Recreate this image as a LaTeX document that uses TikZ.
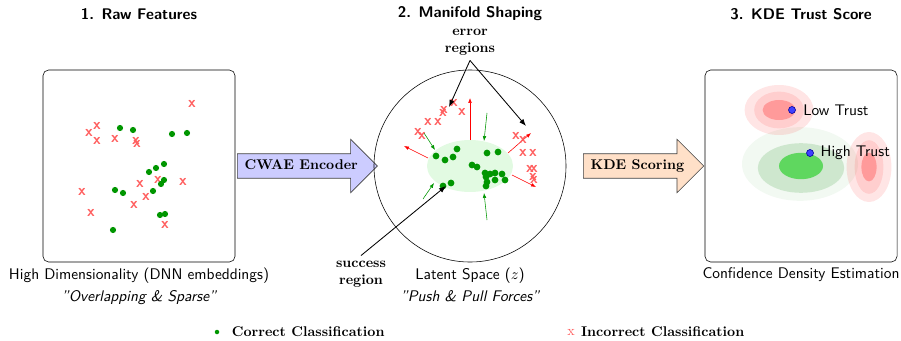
\documentclass[tikz,border=0pt,11pt]{standalone}
\usepackage{fontspec}
\usepackage{xcolor}
\usetikzlibrary{arrows.meta,positioning,shapes.arrows}

\definecolor{okgreen}{RGB}{0,150,0}
\definecolor{errred}{RGB}{255,95,95}
\definecolor{encblue}{RGB}{204,204,255}
\definecolor{kdeorange}{RGB}{255,224,200}
\definecolor{densgreen}{RGB}{0,128,0}
\definecolor{coregreen}{RGB}{95,215,95}
\definecolor{mint}{RGB}{226,250,226}

\begin{document}
\begin{tikzpicture}[
            x=0.025cm, y=-0.025cm,
            panel/.style={rectangle, draw, rounded corners=4pt, minimum width=4.8cm, minimum height=4.8cm, inner sep=0pt},
            title/.style={font=\sffamily\bfseries},
            caption/.style={font=\sffamily, align=center},
            note/.style={font=\small\bfseries, align=center},
            good/.style={circle, fill=okgreen, inner sep=0pt, minimum size=4.4pt},
            bad/.style={text=errred, font=\sffamily\bfseries, inner sep=0pt},
            trust/.style={circle, fill=blue!75, draw=blue!60!black, inner sep=0pt, minimum size=5pt},
            flow/.style={single arrow, draw=black!75, font=\small\bfseries, single arrow head extend=0.3625cm, text height=7pt, text depth=2pt, inner ysep=4pt, inner xsep=5pt},
            push/.style={-{Latex[length=3.5pt]}, red},
            pull/.style={-{Latex[length=3.5pt]}, okgreen},
            callout/.style={-{Latex[length=5pt]}, semithick}
        ]
            \useasboundingbox (0,0) rectangle (901,341);

            % --- TITLES ---
            \node[title] (t1) at (139,14) {1. Raw Features};
            \node[title] (t2) at (470,14) {2. Manifold Shaping};
            \node[title] (t3) at (801,14) {3. KDE Trust Score};

            % --- RAW FEATURES ---
            \node[panel] (raw) at (139,166) {};
            \foreach \x/\y in {192/104, 97/126, 89/133, 97/141, 115/139, 136/141, 137/144, 82/192,
                               91/213, 140/184, 158/180, 183/182, 146/197, 134/205, 165/225}
                \node[bad] at (\x,\y) {x};
            \foreach \x/\y in {120/128, 133/130, 172/134, 187/133, 164/164, 156/168, 149/172, 164/180,
                               161/184, 153/191, 115/190, 123/193, 160/215, 165/214, 113/230}
                \node[good] at (\x,\y) {};
            \node[caption, below=0pt of raw] (rawcap) {High Dimensionality (DNN embeddings)\\[2pt]\itshape "Overlapping \& Sparse"};

            % --- ENCODER ---
            \node[flow, fill=encblue, minimum height=3.425cm, anchor=tail] (enc) at (237,166) {CWAE Encoder};

            % --- LATENT SPACE ---
            \node[circle, draw, minimum size=4.8cm, inner sep=0pt] (latent) at (470,166) {};
            \fill[mint] (latent.center) ellipse [x radius=1.075cm, y radius=0.65cm];
            \foreach \a/\b/\c/\d in {470/140/470/98, 428/158/404/146, 508/153/531/133, 512/175/536/187}
                \draw[push] (\a,\b) -- (\c,\d);
            \foreach \a/\b/\c/\d in {424/133/435/150, 487/113/484/141, 423/199/434/183, 487/220/484/193}
                \draw[pull] (\a,\b) -- (\c,\d);
            \foreach \x/\y in {454/103, 462/112, 443/113, 444/110, 428/122, 438/122, 418/132, 422/136,
                               516/136, 523/140, 523/153, 533/153, 530/169, 534/169, 533/177, 534/180}
                \node[bad] at (\x,\y) {x};
            \foreach \x/\y in {436/156, 445/160, 453/157, 457/149, 487/153, 498/152, 472/165, 477/167,
                               485/173, 490/174, 495/173, 486/177, 487/182, 486/186, 495/180, 502/174,
                               505/180, 443/186, 451/183}
                \node[good, minimum size=4.8pt] at (\x,\y) {};
            \node[caption, below=0pt of latent] (latcap) {Latent Space ($z$)\\[2pt]\itshape "Push \& Pull Forces"};

            % callouts
            \node[note] (errlbl) at (470,42) {error\\regions};
            \coordinate (errA) at (449,107);
            \coordinate (errB) at (526,126);
            \draw[callout] (errlbl.south) -- (errA);
            \draw[callout] (errlbl.south) -- (errB);
            \node[note] (succlbl) at (361,274) {success\\region};
            \coordinate (succA) at (446,186);
            \draw[callout] (succlbl.north) -- (succA);

            % --- SCORING ---
            \node[flow, fill=kdeorange, minimum height=2.925cm, anchor=tail] (kde) at (583,166) {KDE Scoring};

            % --- KDE TRUST ---
            \node[panel] (dens) at (801,166) {};
            \fill[densgreen, fill opacity=0.05] (800,164) ellipse [x radius=1.45cm, y radius=0.92cm];
            \fill[densgreen, fill opacity=0.15] (801,168) ellipse [x radius=1.08cm, y radius=0.62cm];
            \fill[coregreen] (801,166) ellipse [x radius=0.55cm, y radius=0.33cm];
            \foreach \rx/\ry/\op in {0.86/0.625/0.1, 0.62/0.46/0.1, 0.41/0.25/0.25}
                \fill[red, fill opacity=\op] (779,110) ellipse [x radius=\rx cm, y radius=\ry cm];
            \foreach \rx/\ry/\op in {0.56/0.875/0.1, 0.36/0.67/0.1, 0.19/0.36/0.25}
                \fill[red, fill opacity=\op] (869,167) ellipse [x radius=\rx cm, y radius=\ry cm];
            \node[trust] (low) at (792,110) {};
            \node[font=\sffamily, right=1.5pt of low] (lowlbl) {Low Trust};
            \node[trust] (high) at (810,153) {};
            \node[font=\sffamily, right=1pt of high] (highlbl) {High Trust};
            \node[caption, below=0pt of dens] (denscap) {Confidence Density Estimation};

            % --- LEGEND ---
            \node[good, minimum size=3.2pt] (legok) at (217,332) {};
            \node[font=\small\bfseries, right=5pt of legok] (legoklbl) {Correct Classification};
            \node[bad, font=\small\rmfamily] (legbad) at (571,332) {x};
            \node[font=\small\bfseries, right=0.5pt of legbad] (legbadlbl) {Incorrect Classification};

        \end{tikzpicture}
\end{document}
